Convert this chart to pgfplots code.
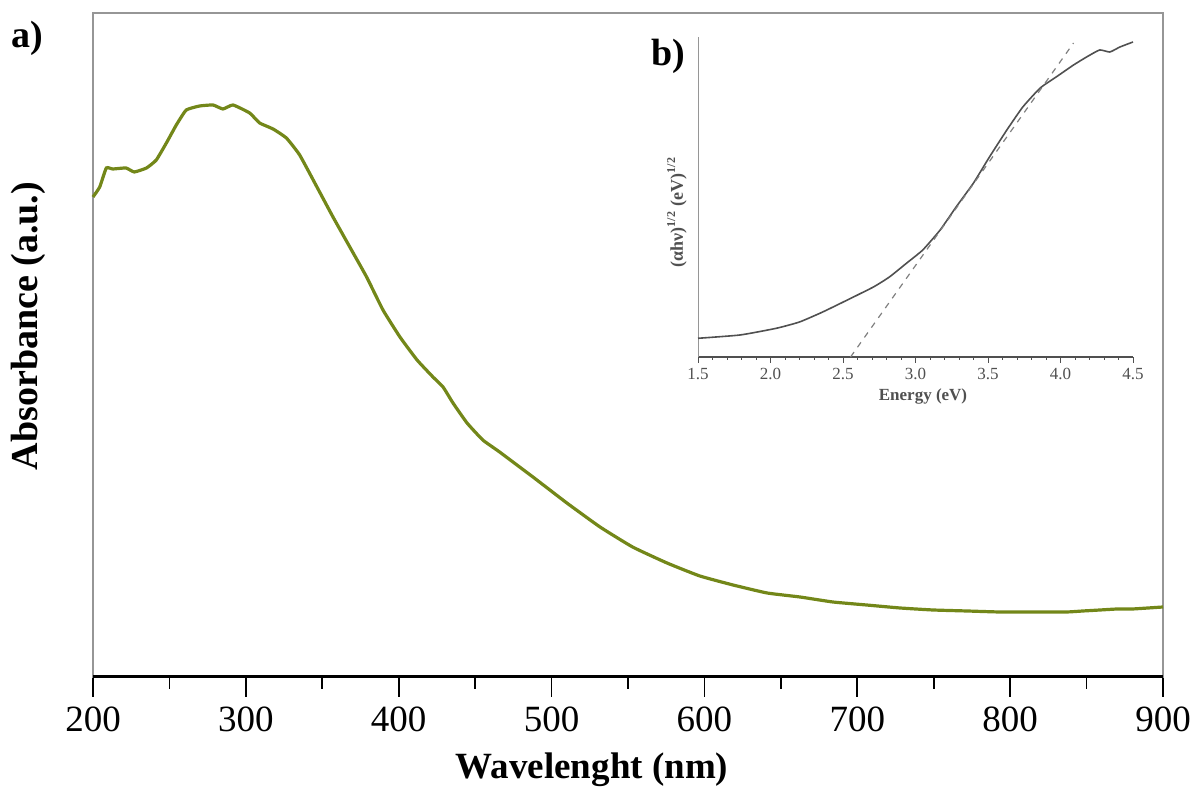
\documentclass[border=0pt]{standalone}
\usepackage{pgfplots}
\pgfplotsset{compat=1.18}
\usepackage{fontspec}
\setmainfont{Liberation Serif}
\definecolor{curve}{RGB}{115,135,25}
\definecolor{frame}{RGB}{150,150,150}
\definecolor{inset}{RGB}{80,80,80}
\begin{document}
\begin{tikzpicture}
\useasboundingbox (0,0) rectangle (597pt,395pt);
% main axis
\begin{axis}[
  at={(46.5pt,56.5pt)}, anchor=south west,
  scale only axis, width=535pt, height=332pt,
  xmin=200, xmax=900, ymin=0, ymax=664,
  xtick={200,300,...,900}, minor xtick={250,350,...,850},
  ytick=\empty,
  xtick pos=bottom, tick align=outside,
  major tick length=10pt, minor tick length=6pt,
  every tick/.style={black, line width=0.8pt},
  axis line style={frame, line width=0.6pt},
  xticklabel style={font=\fontsize{18.5}{20}\selectfont, yshift=-1.5pt},
  /pgf/number format/assume math mode=true,
  clip=false,
]
\addplot[curve, line width=1.6pt, smooth, tension=0.25] coordinates {
(200,480) (204.4,490) (208.7,509) (213,508) (221.6,509) (227,505) (235,509)
(241.4,517) (248,534) (254.5,552) (261,567) (269.8,571) (278.5,572)
(285,568) (291.6,572) (302.5,564) (309,554) (317.8,548) (326.5,539)
(335.2,522) (346.5,490) (357,460) (368,430) (379,400) (389.7,367)
(400.8,340) (412,317) (422.4,300) (429,290) (435.5,274) (444.7,254)
(455,237) (466,225) (487.8,200) (510,174) (531.7,150) (553,130)
(575.5,114) (597,101) (618.7,92) (641,84) (662.5,80) (684,75) (706,72)
(728,69) (749.5,67) (771.8,66) (793,65) (815,65) (837,65) (847.6,66)
(858.8,67) (870,68) (880,68) (900,70)
};
\draw[black, line width=1.5pt] (rel axis cs:0,0) -- (rel axis cs:1,0);
\end{axis}
% inset
\begin{axis}[
  at={(349pt,216.5pt)}, anchor=south west,
  scale only axis, width=217.5pt, height=160pt,
  xmin=1.5, xmax=4.5, ymin=0, ymax=320,
  axis lines*=left,
  xtick={1.5,2.0,...,4.5}, minor xtick={1.6,1.7,...,4.4},
  ytick=\empty,
  tick align=outside,
  major tick length=3pt, minor tick length=1.5pt,
  every tick/.style={inset, line width=0.5pt},
  x axis line style={inset, line width=0.9pt},
  y axis line style={frame, line width=0.5pt},
  xticklabel style={font=\fontsize{8.5}{9}\selectfont, text=inset, yshift=1pt},
  /pgf/number format/assume math mode=true,
  /pgf/number format/fixed, /pgf/number format/fixed zerofill,
  /pgf/number format/precision=1,
  clip=false,
]
\addplot[inset, line width=0.8pt, smooth, tension=0.3] coordinates {
(1.5,18.7) (1.79,22) (2.04,28.7) (2.2,35) (2.36,45) (2.53,57) (2.71,70)
(2.82,80) (2.94,94) (3.05,107) (3.17,127) (3.28,150) (3.40,174) (3.51,200)
(3.63,227) (3.74,250) (3.86,269) (3.97,280) (4.09,292) (4.18,300)
(4.27,307) (4.34,305) (4.41,310) (4.5,315)
};
\addplot[gray, dashed, line width=0.6pt] coordinates {(2.552,0) (4.09,314)};
\end{axis}
% labels
\node[font=\fontsize{18.5}{20}\selectfont\bfseries] at (296pt,10pt) {Wavelenght (nm)};
\node[font=\fontsize{19}{20}\selectfont\bfseries, rotate=90] at (14pt,232pt) {Absorbance (a.u.)};
\node[font=\fontsize{19}{20}\selectfont\bfseries] at (13.5pt,376pt) {a)};
\node[font=\fontsize{19}{20}\selectfont\bfseries] at (334pt,367pt) {b)};
\node[font=\fontsize{8.5}{9}\selectfont\bfseries, text=inset] at (461.5pt,197pt) {Energy (eV)};
\node[font=\fontsize{9}{10}\selectfont\bfseries, text=inset, rotate=90] at (338.5pt,289pt) {(αhν)\textsuperscript{1/2} (eV)\textsuperscript{1/2}};
\end{tikzpicture}
\end{document}
